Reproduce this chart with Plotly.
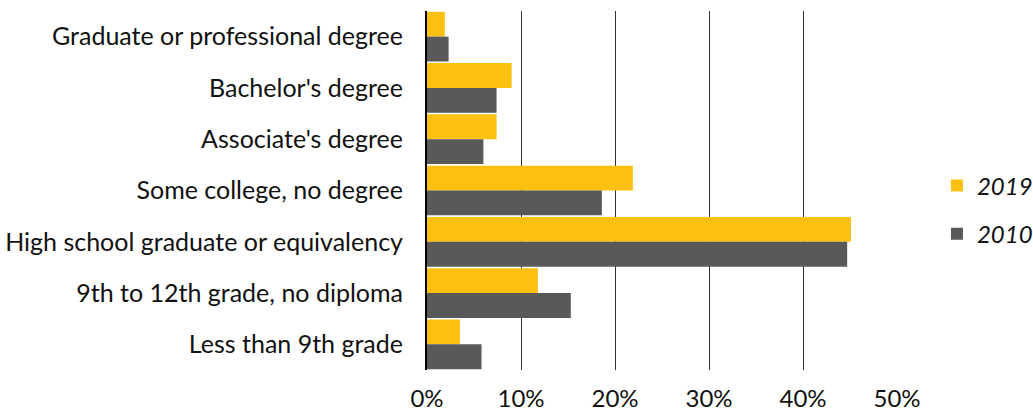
import plotly.graph_objects as go

# Educational attainment shares, by level
categories = [
    "Graduate or professional degree",
    "Bachelor's degree",
    "Associate's degree",
    "Some college, no degree",
    "High school graduate or equivalency",
    "9th to 12th grade, no diploma",
    "Less than 9th grade",
]
share_2019 = [0.019, 0.090, 0.074, 0.219, 0.451, 0.118, 0.035]
share_2010 = [0.023, 0.074, 0.060, 0.186, 0.447, 0.153, 0.058]
tick_values = [0, 0.1, 0.2, 0.3, 0.4, 0.5]
tick_labels = ["0%", "10%", "20%", "30%", "40%", "50%"]

FONT = "Lato, Open Sans, sans-serif"

fig = go.Figure()
fig.add_trace(go.Bar(
    name="2019", y=categories, x=share_2019, orientation="h",
    marker=dict(color="#FCC010", line=dict(width=0)),
    legendgroup="a",
))
fig.add_trace(go.Bar(
    name="2010", y=categories, x=share_2010, orientation="h",
    marker=dict(color="#595959", line=dict(width=0)),
    legendgroup="b",
))

fig.update_layout(
    width=1033, height=413,
    margin=dict(l=427, r=136, t=11, b=43, autoexpand=False),
    paper_bgcolor="white", plot_bgcolor="white",
    barmode="group", bargap=0.03, bargroupgap=0.0,
    font=dict(family=FONT, size=24, color="#111111"),
    showlegend=True,
    legend=dict(
        x=1.085, y=0.446, xanchor="left", yanchor="middle",
        traceorder="grouped", tracegroupgap=14,
        font=dict(family=FONT, size=24, color="#111111", style="italic"),
        itemwidth=30,
    ),
    xaxis=dict(
        range=[0, 0.5], tickvals=tick_values, ticktext=tick_labels,
        showgrid=True, gridcolor="#333333", gridwidth=1,
        zeroline=False, showline=False, ticks="", automargin=False,
        ticklabelstandoff=12,
        tickfont=dict(family=FONT, size=24, color="#111111"),
    ),
    yaxis=dict(
        categoryorder="array", categoryarray=categories, autorange="reversed",
        showline=True, linecolor="#000000", linewidth=2, automargin=False,
        ticks="", showgrid=False, ticklabelstandoff=17,
        tickfont=dict(family=FONT, size=25, color="#111111"),
    ),
)

fig.write_html("out.html")
